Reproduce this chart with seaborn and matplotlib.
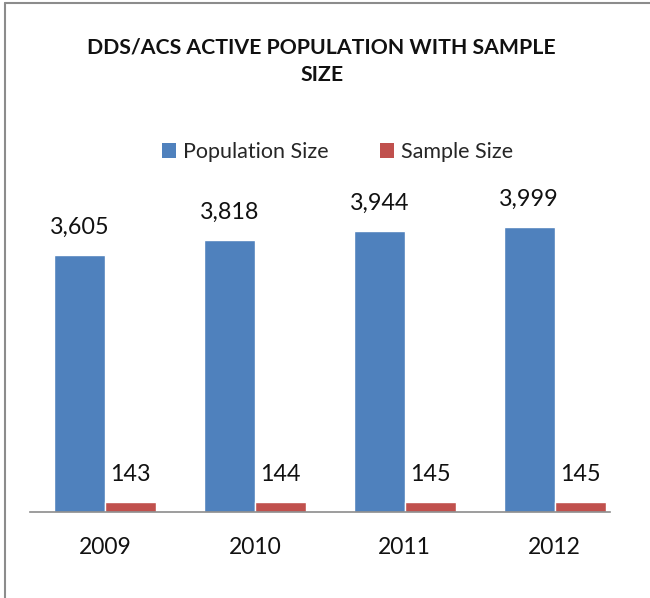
import pandas as pd
import numpy as np
import matplotlib.pyplot as plt
import seaborn as sns
from matplotlib.lines import Line2D
from matplotlib.patches import Patch

years = ['2009', '2010', '2011', '2012']
population_size = [3605, 3818, 3944, 3999]
sample_size = [143, 144, 145, 145]
series_names = ['Population Size', 'Sample Size']
series_colors = ['#4F81BD', '#C0504D']

df = pd.DataFrame({
    'Year': years * 2,
    'Value': population_size + sample_size,
    'Series': [series_names[0]] * len(years) + [series_names[1]] * len(years),
})

sns.set_theme(style='white')
plt.rcParams['font.family'] = ['Lato', 'DejaVu Sans']

fig = plt.figure(figsize=(6.5, 5.98), dpi=100)
ax = fig.add_axes([30 / 650, 86 / 598, 580 / 650, 321 / 598])

sns.barplot(data=df, x='Year', y='Value', hue='Series', palette=series_colors,
            width=0.68, ax=ax, legend=False, saturation=1)

for container in ax.containers:
    ax.bar_label(container, fmt='{:,.0f}', padding=12, fontsize=16.8, color='#111111')

ax.set_ylim(0, 4500)
ax.set_xlim(-0.5, 3.37)
ax.set_yticks([])
ax.set_xlabel('')
ax.set_ylabel('')
for side in ['top', 'right', 'left']:
    ax.spines[side].set_visible(False)
ax.spines['bottom'].set_color('#8c8c8c')
ax.spines['bottom'].set_linewidth(1.2)
ax.tick_params(axis='x', labelsize=16.5, pad=18, length=0, colors='#111111')

fig.text(0.495, 1 - 47 / 598, 'DDS/ACS ACTIVE POPULATION WITH SAMPLE', ha='center', va='center',
         fontsize=15.3, fontweight='bold', color='#111111')
fig.text(0.495, 1 - 75 / 598, 'SIZE', ha='center', va='center',
         fontsize=15.3, fontweight='bold', color='#111111')

handles = [Patch(facecolor=c, edgecolor='none') for c in series_colors]
fig.legend(handles, series_names, loc='center', bbox_to_anchor=(0.519, 1 - 152 / 598),
           ncol=2, frameon=False, fontsize=15.5, handlelength=0.65, handleheight=0.65,
           handletextpad=0.33, columnspacing=2.4)

# chart border (top and left edge visible)
fig.add_artist(Line2D([5 / 650, 5 / 650], [0, 1 - 3 / 598], transform=fig.transFigure,
                      color='#8c8c8c', linewidth=1.5))
fig.add_artist(Line2D([5 / 650, 1], [1 - 3 / 598, 1 - 3 / 598], transform=fig.transFigure,
                      color='#8c8c8c', linewidth=1.5))

plt.savefig('out.png', dpi=100)
